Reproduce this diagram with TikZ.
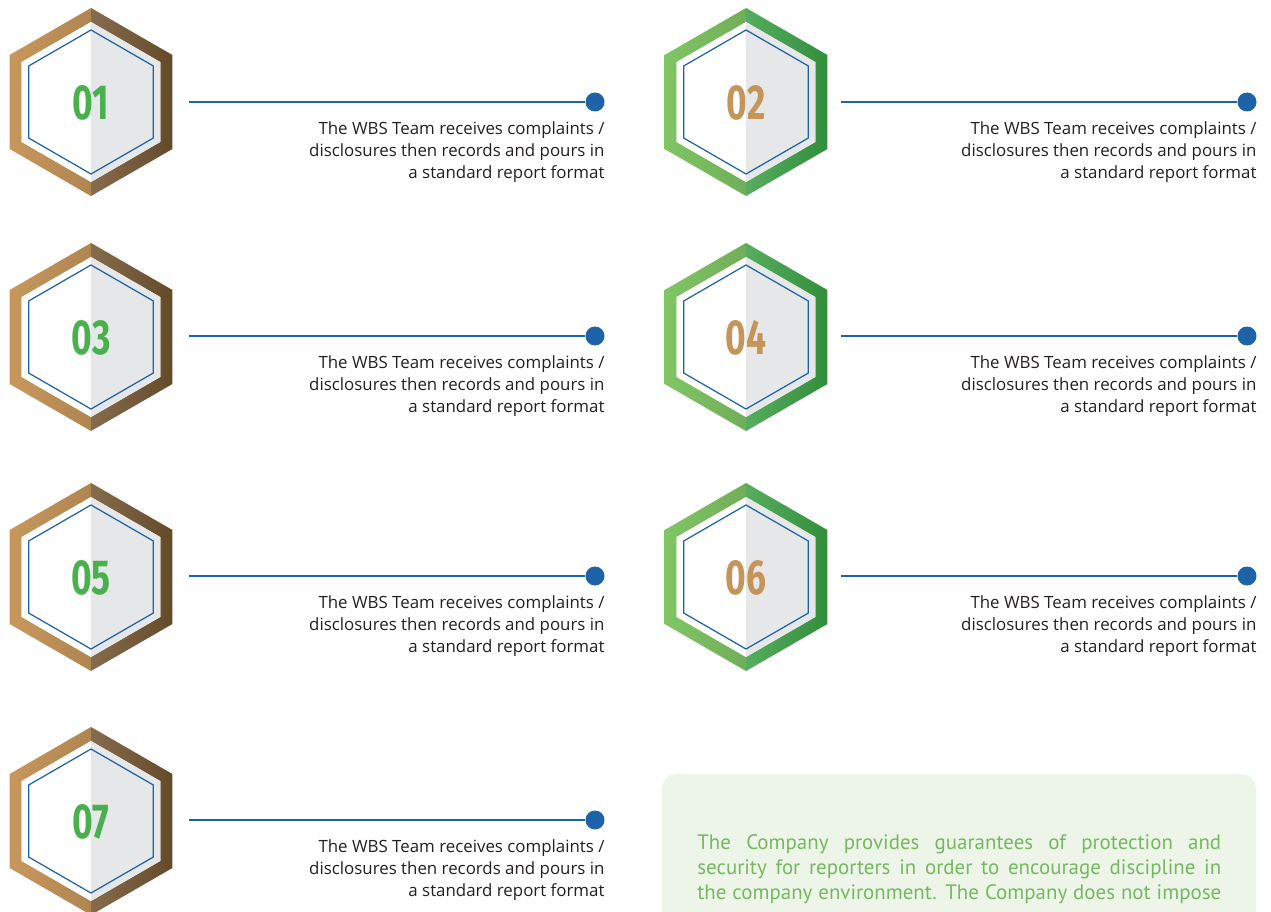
\documentclass[tikz,border=0pt]{standalone}
\usepackage{fontspec}
\setmainfont{Open Sans}
\newfontfamily\numfont{Fira Sans}
\newfontfamily\notefont{PT Sans}
\usetikzlibrary{positioning}
\definecolor{BronzeLight}{RGB}{200,151,92}
\definecolor{BronzeDark}{RGB}{112,82,46}
\definecolor{LeafLight}{RGB}{128,197,100}
\definecolor{LeafDark}{RGB}{56,158,66}
\definecolor{NumGreen}{RGB}{72,176,76}
\definecolor{NumBronze}{RGB}{196,148,88}
\definecolor{PanelGray}{RGB}{230,231,232}
\definecolor{LineBlue}{RGB}{30,98,168}
\definecolor{InkGray}{RGB}{35,31,32}
\definecolor{NoteGreen}{RGB}{118,184,98}
\definecolor{NoteFill}{RGB}{236,245,232}

\newcommand{\wbstext}{The WBS Team receives complaints /\\disclosures then records and pours in\\a standard report format}
% full last line, no hyphens in the note
\newcommand{\notesetup}{\parfillskip=0pt \hyphenpenalty=10000 }

\begin{document}
\begin{tikzpicture}[x=0.02cm, y=-0.02cm,
	link/.style={draw=LineBlue, line width=0.85pt},
	dot/.style={circle, fill=LineBlue, inner sep=0pt, minimum size=0.38cm},
	bodytext/.style={anchor=north east, align=right, inner sep=0pt, text=InkGray,
		font=\fontsize{9.6}{12.6}\selectfont},
	badgenum/.style={inner sep=0pt, font=\numfont\bfseries\fontsize{28}{28}\selectfont},
	notetext/.style={anchor=north west, align=justify, inner sep=0pt, text width=10.48cm,
		text=NoteGreen, font=\notefont\fontsize{11.9}{14.2}\selectfont\notesetup}]
	\useasboundingbox (0,0) rectangle (1271,912);

	% note panel, runs off the bottom
	\begin{scope}
		\clip (0,0) rectangle (1271,912);
		\fill[NoteFill, rounded corners=0.3cm] (662,774) rectangle (1256,980);
	\end{scope}
	\node[notetext] (note) at (697,834) {The Company provides guarantees of protection and\linebreak
		security for reporters in order to encourage discipline in\linebreak
		the company environment. The Company does not impose};

	% hexagon badges
	\foreach \n/\cx/\cy/\lt/\dk/\nc in {01/91/102/BronzeLight/BronzeDark/NumGreen,
		03/91/337/BronzeLight/BronzeDark/NumGreen, 05/91/577/BronzeLight/BronzeDark/NumGreen,
		07/91/821/BronzeLight/BronzeDark/NumGreen, 02/746/102/LeafLight/LeafDark/NumBronze,
		04/746/337/LeafLight/LeafDark/NumBronze, 06/746/577/LeafLight/LeafDark/NumBronze}{
		\begin{scope}[shift={(\cx,\cy)}]
			% frame: light left half, dark right half
			\shade[left color=\lt, right color=\lt!88!black]
				(90:94) -- (150:94) -- (210:94) -- (270:94) -- (270:80) -- (210:80) -- (150:80) -- (90:80) -- cycle;
			\shade[left color=\dk!85!white, right color=\dk!90!black]
				(90:94) -- (30:94) -- (-30:94) -- (-90:94) -- (-90:80) -- (-30:80) -- (30:80) -- (90:80) -- cycle;
			% face
			\fill[white] (90:80) -- (150:80) -- (210:80) -- (270:80) -- cycle;
			\fill[PanelGray] (90:80) -- (30:80) -- (-30:80) -- (-90:80) -- cycle;
			\draw[LineBlue, line width=0.7pt] (90:72) -- (150:72) -- (210:72) -- (270:72) -- (330:72) -- (30:72) -- cycle;
			\node[badgenum, text=\nc] (num\n) at (0,1) {\scalebox{0.72}[1]{\n}};
		\end{scope}
	}

	% connectors and captions
	\foreach \n/\sx/\sy/\ex in {01/189/102/595, 03/189/336/595, 05/189/576/595, 07/189/820/595,
		02/841/102/1247, 04/841/336/1247, 06/841/576/1247}{
		\coordinate (start\n) at (\sx,\sy);
		\node[dot] (dot\n) at (\ex,\sy) {};
		\draw[link] (start\n) -- (dot\n);
		\node[bodytext] (text\n) at ([yshift=-0.38cm]dot\n.east) {\wbstext};
	}
\end{tikzpicture}
\end{document}
